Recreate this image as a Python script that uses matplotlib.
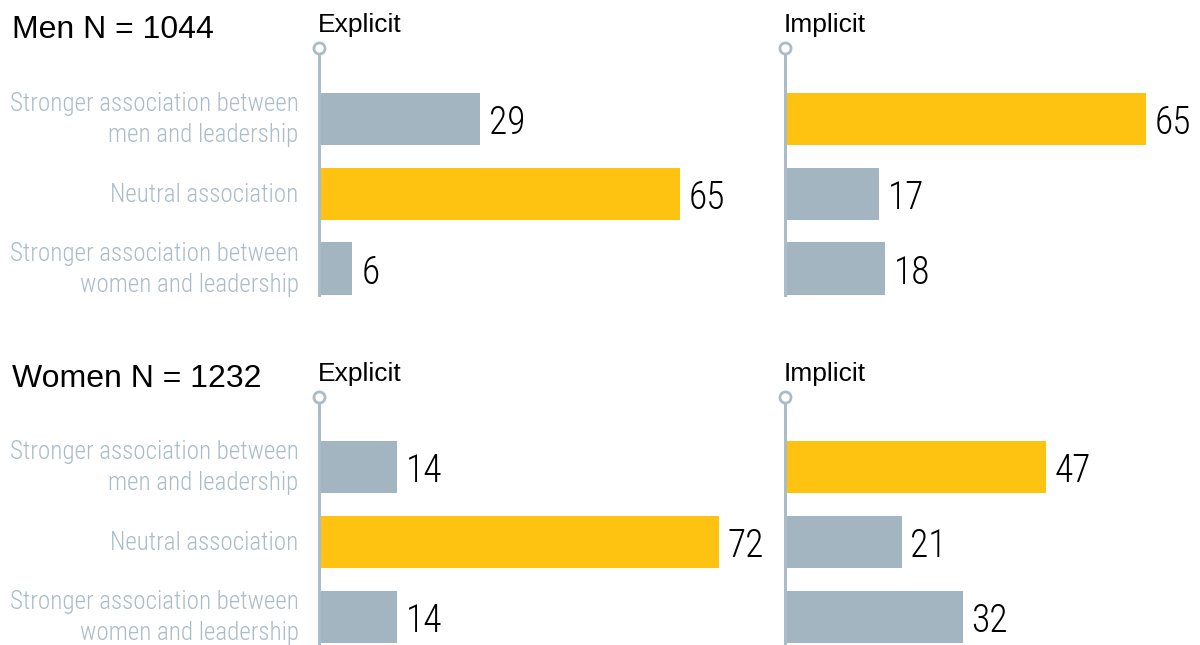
import numpy as np
import matplotlib.pyplot as plt

# data
categories = ["Stronger association between\nmen and leadership",
              "Neutral association",
              "Stronger association between\nwomen and leadership"]
groups = ["Men N = 1044", "Women N = 1232"]
panels = ["Explicit", "Implicit"]
men_explicit = [29, 65, 6]
men_implicit = [65, 17, 18]
women_explicit = [14, 72, 14]
women_implicit = [47, 21, 32]
values = [[men_explicit, men_implicit], [women_explicit, women_implicit]]

grey = '#a3b5c1'
yellow = '#fec210'
label_col = '#a9bcc8'
narrow = ['Roboto Condensed', 'DejaVu Sans']
plain = ['Liberation Sans', 'DejaVu Sans']

W, H = 1200, 645
fig = plt.figure(figsize=(W / 100, H / 100), dpi=100)

scale = 5.55           # px per unit
col_left = [319, 785]  # px
col_xmax = [80, 75]
row_top = [48, 397]    # px (circle position)
row_bot = [295, 643]
unit = 75.0            # px per bar slot

for g in range(2):
    top, bot = row_top[g], row_bot[g]
    fig.text(12 / W, 1 - (top - 10) / H, groups[g], fontsize=23, family=plain,
             ha='left', va='baseline', color='black')
    for p in range(2):
        left = col_left[p]
        width = col_xmax[p] * scale
        ax = fig.add_axes([left / W, 1 - bot / H, width / W, (bot - top) / H])
        vals = values[g][p]
        y = np.arange(len(vals))
        cols = [yellow if v == max(vals) else grey for v in vals]
        ax.barh(y, vals, height=0.7, color=cols, zorder=2)
        ax.set_xlim(0, col_xmax[p])
        ytop = 2.35 - (bot - top) / unit
        ax.set_ylim(2.35, ytop)
        for yi, v in zip(y, vals):
            ax.text(v + 1.6, yi + 0.06, str(v), fontsize=27, family=narrow,
                    weight=300, ha='left', va='center', color='black',
                    clip_on=False)
        # vertical axis with circle on top
        ax.plot([0, 0], [2.35, ytop], color=label_col, lw=2.2, zorder=3,
                clip_on=False)
        ax.plot([0], [ytop], marker='o', ms=8, mfc='white', mec=label_col,
                mew=2, zorder=4, clip_on=False)
        for s in ax.spines.values():
            s.set_visible(False)
        ax.set_xticks([])
        ax.set_yticks([])
        ax.patch.set_alpha(0)
        fig.text((left - 1) / W, 1 - (top - 16) / H, panels[p], fontsize=19,
                 family=plain, ha='left', va='baseline', color='black')
        if p == 0:
            for yi, c in zip(y, categories):
                ax.text(-20.5 / scale, yi + 0.01, c, fontsize=18, family=narrow,
                        weight=300, ha='right', va='center', color=label_col,
                        linespacing=1.35, clip_on=False)

fig.savefig('out.png', dpi=100)
